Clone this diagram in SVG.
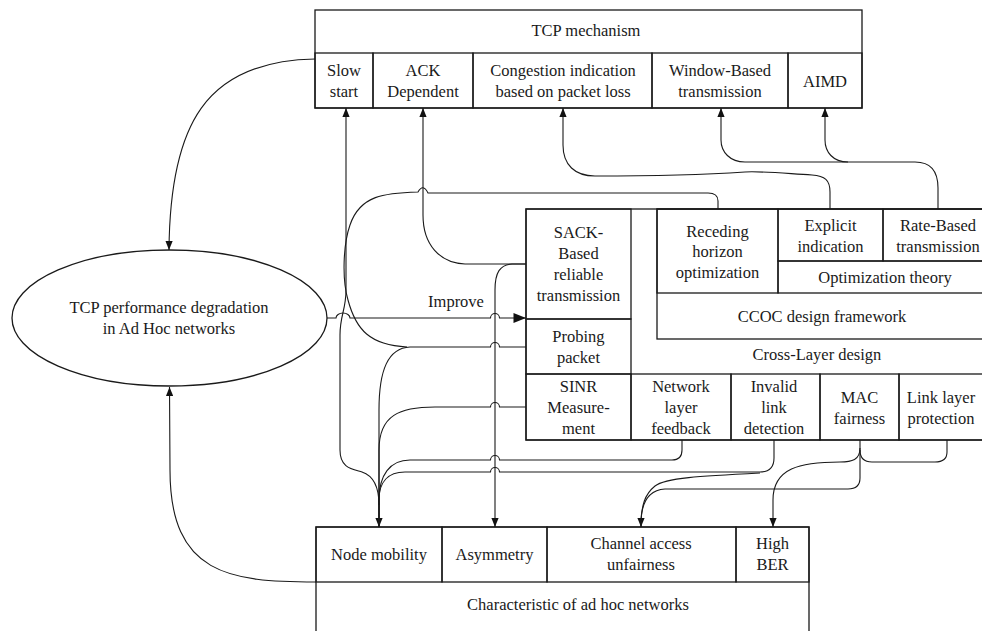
<svg xmlns="http://www.w3.org/2000/svg" width="982" height="631" viewBox="0 0 982 631" font-family="'Liberation Serif', 'DejaVu Serif', serif">
<defs>
<marker id="arr" viewBox="0 0 10 8" refX="10" refY="4" markerWidth="9" markerHeight="7.5" markerUnits="userSpaceOnUse" orient="auto"><path d="M0,0 L10,4 L0,8 z" fill="#111"/></marker>
<marker id="arrL" viewBox="0 0 10 8" refX="10" refY="4" markerWidth="13" markerHeight="10" markerUnits="userSpaceOnUse" orient="auto"><path d="M0,0 L10,4 L0,8 z" fill="#111"/></marker>
</defs>
<style>
.b{fill:none;stroke:#1a1a1a;stroke-width:1.3}
.c{fill:none;stroke:#1a1a1a;stroke-width:1.1}
text{font-family:'Liberation Serif','DejaVu Serif',serif;font-size:16.5px;fill:#1a1a1a;text-anchor:middle}
</style>
<rect width="982" height="631" fill="#fff"/>

<g id="tcp-mechanism"><rect class="b" x="315" y="10" width="547" height="98"/><text x="586" y="36">TCP mechanism</text></g>
<g id="slow-start"><rect class="b" x="315" y="53" width="58" height="55"/><text x="344" y="76">Slow</text><text x="344" y="97">start</text></g>
<g id="ack-dependent"><rect class="b" x="373" y="53" width="100" height="55"/><text x="423" y="76">ACK</text><text x="423" y="97">Dependent</text></g>
<g id="congestion-indication"><rect class="b" x="473" y="53" width="179" height="55"/><text x="563" y="76">Congestion indication</text><text x="563" y="97">based on packet loss</text></g>
<g id="window-based"><rect class="b" x="652" y="53" width="136" height="55"/><text x="720" y="76">Window-Based</text><text x="720" y="97">transmission</text></g>
<g id="aimd"><rect class="b" x="788" y="53" width="74" height="55"/><text x="825" y="87">AIMD</text></g>

<g id="ellipse-degradation"><ellipse class="b" cx="169.5" cy="318" rx="157.5" ry="68"/><text x="169" y="313">TCP performance degradation</text><text x="169" y="334">in Ad Hoc networks</text></g>

<g id="cross-layer-design"><rect class="b" x="526" y="209" width="469" height="231"/><text x="817" y="360">Cross-Layer design</text></g>
<g id="sack"><rect class="b" x="526" y="209" width="105" height="110"/><text x="578.5" y="238">SACK-</text><text x="578.5" y="259">Based</text><text x="578.5" y="280">reliable</text><text x="578.5" y="301">transmission</text></g>
<g id="probing"><rect class="b" x="526" y="319" width="105" height="55"/><text x="578.5" y="342">Probing</text><text x="578.5" y="363">packet</text></g>
<g id="sinr"><rect class="b" x="526" y="374" width="105" height="66"/><text x="578.5" y="392">SINR</text><text x="578.5" y="413">Measure-</text><text x="578.5" y="434">ment</text></g>
<g id="network-feedback"><rect class="b" x="631" y="374" width="100" height="66"/><text x="681" y="392">Network</text><text x="681" y="413">layer</text><text x="681" y="434">feedback</text></g>
<g id="invalid-link"><rect class="b" x="731" y="374" width="89" height="66"/><text x="774" y="392">Invalid</text><text x="774" y="413">link</text><text x="774" y="434">detection</text></g>
<g id="mac-fairness"><rect class="b" x="820" y="374" width="79" height="66"/><text x="859.5" y="403">MAC</text><text x="859.5" y="424">fairness</text></g>
<g id="link-protection"><rect class="b" x="899" y="374" width="96" height="66"/><text x="941" y="403">Link layer</text><text x="941" y="424">protection</text></g>
<g id="ccoc"><rect class="b" x="657" y="209" width="338" height="130"/><text x="822" y="322">CCOC design framework</text></g>
<g id="receding-horizon"><rect class="b" x="657" y="209" width="121" height="84"/><text x="717.5" y="237">Receding</text><text x="717.5" y="257">horizon</text><text x="717.5" y="278">optimization</text></g>
<g id="explicit-indication"><rect class="b" x="778" y="209" width="105" height="52"/><text x="830.5" y="231">Explicit</text><text x="830.5" y="252">indication</text></g>
<g id="rate-based"><rect class="b" x="883" y="209" width="112" height="52"/><text x="938" y="231">Rate-Based</text><text x="938" y="252">transmission</text></g>
<g id="optimization-theory"><rect class="b" x="778" y="261" width="217" height="32"/><text x="885" y="283">Optimization theory</text></g>

<g id="characteristic"><rect class="b" x="316" y="527" width="493" height="130"/><text x="578" y="610">Characteristic of ad hoc networks</text></g>
<g id="node-mobility"><rect class="b" x="316" y="527" width="126" height="55"/><text x="379" y="560">Node mobility</text></g>
<g id="asymmetry"><rect class="b" x="442" y="527" width="105" height="55"/><text x="494.5" y="560">Asymmetry</text></g>
<g id="channel-access"><rect class="b" x="547" y="527" width="189" height="55"/><text x="641" y="549">Channel access</text><text x="641" y="570">unfairness</text></g>
<g id="high-ber"><rect class="b" x="736" y="527" width="73" height="55"/><text x="772.5" y="549">High</text><text x="772.5" y="570">BER</text></g>

<g id="connectors">
<path class="c" d="M315,59 C205,61 170,125 169,250" marker-end="url(#arr)"/>
<path class="c" d="M316,582 C230,582 170,575 170,470 L169.5,387" marker-end="url(#arr)"/>
<path class="c" d="M327,318 H336 A7,5 0 0 1 350,318 H490.5 A4.5,4.5 0 0 1 499.5,318 H526" marker-end="url(#arrL)"/>
<text x="456" y="307">Improve</text>
<path class="c" d="M379,505 C379,488 374,476 362,472 C352,469 340,468 340,450 V335 C340,315 346,310 346,290 V108" marker-end="url(#arr)"/>
<path class="c" d="M718,209 V201 Q718,193 708,193 H428 Q423,183 418,192 C385,193 360,195 350,225 C343,245 342,280 348,300 C356,330 370,345 407,347"/>
<path class="c" d="M526,347 H499.5 A4.5,4.5 0 0 0 490.5,347 H410 C388,348 379,370 379,410 V527" marker-end="url(#arr)"/>
<path class="c" d="M526,407 H499.5 A4.5,4.5 0 0 0 490.5,407 H435 C400,407 379,415 379,450 V527"/>
<path class="c" d="M682,440 V450 Q682,460 672,460 H499.5 A4.5,4.5 0 0 0 490.5,460 H410 C390,460 379,475 379,500 V527"/>
<path class="c" d="M774,440 V458 Q774,472 760,472 H499.5 A4.5,4.5 0 0 0 490.5,472 H405 C388,472 379,482 379,500 V527"/>
<path class="c" d="M760,473 C700,476 665,478 655,486 C645,494 641,505 641,527" marker-end="url(#arr)"/>
<path class="c" d="M860,440 V478 Q860,489 848,489 H665 C650,490 642,500 641,520 V527"/>
<path class="c" d="M947,440 V452 Q947,462 935,462 H872 C864,462 860,458 860,450"/>
<path class="c" d="M860,448 C860,460 852,462 840,462 C800,462 773,468 773,500 V527" marker-end="url(#arr)"/>
<path class="c" d="M526,264 H465 C440,263 423,245 423,215 V108" marker-end="url(#arr)"/>
<path class="c" d="M526,264 H512 C500,265 495,272 495,290 V527" marker-end="url(#arr)"/>
<path class="c" d="M830,209 V192 C830,180 825,176 812,175 C780,173 760,171 745,172 C700,175 640,176 595,176 C575,176 563,165 563,145 V108" marker-end="url(#arr)"/>
<path class="c" d="M938,209 V188 C938,170 930,162 915,162 H745 C730,162 721,152 721,140 V108" marker-end="url(#arr)"/>
<path class="c" d="M848,162 C833,162 825,152 825,140 V108" marker-end="url(#arr)"/>
</g>
</svg>
